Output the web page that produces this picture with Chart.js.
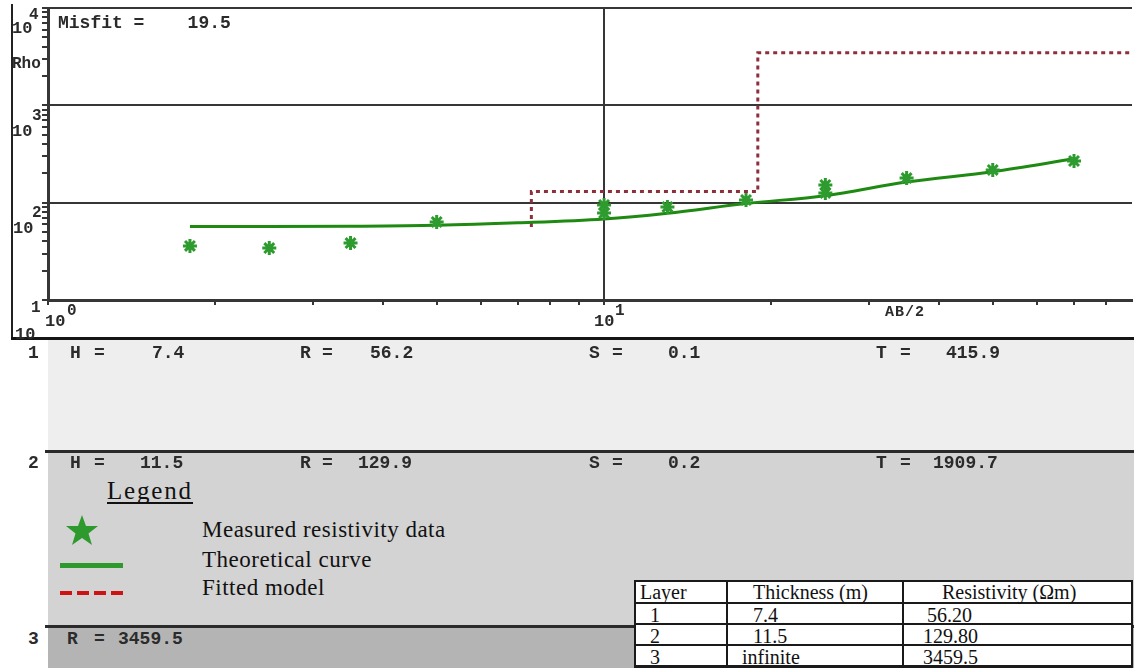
<!DOCTYPE html>
<html><head><meta charset="utf-8">
<script src="https://cdn.jsdelivr.net/npm/chart.js@4.4.1/dist/chart.umd.min.js"></script>
<style>
html,body{margin:0;padding:0;background:#fff;}
body{width:1134px;height:668px;overflow:hidden;position:relative;}
.a{position:absolute;white-space:pre;line-height:1;}
.m{font-family:"Liberation Mono","DejaVu Sans Mono",monospace;font-weight:bold;color:#2b2b2b;}
.s{font-family:"Liberation Serif","DejaVu Serif",serif;color:#111;}
.box{position:absolute;}
</style></head><body>
<canvas id="c" width="1134" height="338" style="position:absolute;left:0;top:0;"></canvas>

<!-- frame lines -->
<div class="box" style="left:11px;top:4px;width:2px;height:335px;background:#222;"></div>

<!-- layer panel -->
<div class="box" style="left:48px;top:340px;width:1086px;height:111px;background:#eeeeee;"></div>
<div class="box" style="left:48px;top:453px;width:1086px;height:173px;background:#d3d3d3;"></div>
<div class="box" style="left:48px;top:628px;width:1086px;height:40px;background:#b4b4b4;"></div>
<div class="box" style="left:45px;top:450px;width:1089px;height:3px;background:#2a2a2a;"></div>
<div class="box" style="left:45px;top:625px;width:1089px;height:3px;background:#2a2a2a;"></div>
<div class="box" style="left:11px;top:337px;width:1123px;height:3px;background:#151515;"></div>

<!-- axis labels -->
<div class="a m" style="left:12px;top:20px;font-size:17px;">10</div>
<div class="a m" style="left:29px;top:7px;font-size:16px;">4</div>
<div class="a m" style="left:12px;top:56px;font-size:16px;">Rho</div>
<div class="a m" style="left:32px;top:108px;font-size:16px;">3</div>
<div class="a m" style="left:12px;top:123px;font-size:17px;">10</div>
<div class="a m" style="left:32px;top:205px;font-size:16px;">2</div>
<div class="a m" style="left:13px;top:220px;font-size:17px;">10</div>
<div class="a m" style="left:31px;top:300px;font-size:16px;">1</div>
<div class="a m" style="left:15px;top:326px;font-size:17px;">10</div>
<div class="a m" style="left:45px;top:313px;font-size:17px;">10</div>
<div class="a m" style="left:67px;top:303px;font-size:16px;">0</div>
<div class="a m" style="left:594px;top:313px;font-size:17px;">10</div>
<div class="a m" style="left:615px;top:303px;font-size:16px;">1</div>
<div class="a m" style="left:885px;top:305px;font-size:15px;letter-spacing:1px;">AB/2</div>
<div class="a m" style="left:58px;top:14px;font-size:18px;">Misfit =    19.5</div>

<!-- layer rows -->
<div class="a m" style="left:28px;top:344px;font-size:18px;">1</div>
<div class="a m" style="left:70px;top:344px;font-size:18px;">H</div>
<div class="a m" style="left:94px;top:344px;font-size:18px;">=</div>
<div class="a m" style="left:152px;top:344px;font-size:18px;">7.4</div>
<div class="a m" style="left:300px;top:344px;font-size:18px;">R</div>
<div class="a m" style="left:322px;top:344px;font-size:18px;">=</div>
<div class="a m" style="left:370px;top:344px;font-size:18px;">56.2</div>
<div class="a m" style="left:589px;top:344px;font-size:18px;">S</div>
<div class="a m" style="left:612px;top:344px;font-size:18px;">=</div>
<div class="a m" style="left:668px;top:344px;font-size:18px;">0.1</div>
<div class="a m" style="left:876px;top:344px;font-size:18px;">T</div>
<div class="a m" style="left:900px;top:344px;font-size:18px;">=</div>
<div class="a m" style="left:946px;top:344px;font-size:18px;">415.9</div>

<div class="a m" style="left:28px;top:454px;font-size:18px;">2</div>
<div class="a m" style="left:70px;top:454px;font-size:18px;">H</div>
<div class="a m" style="left:94px;top:454px;font-size:18px;">=</div>
<div class="a m" style="left:140px;top:454px;font-size:18px;">11.5</div>
<div class="a m" style="left:300px;top:454px;font-size:18px;">R</div>
<div class="a m" style="left:322px;top:454px;font-size:18px;">=</div>
<div class="a m" style="left:358px;top:454px;font-size:18px;">129.9</div>
<div class="a m" style="left:589px;top:454px;font-size:18px;">S</div>
<div class="a m" style="left:612px;top:454px;font-size:18px;">=</div>
<div class="a m" style="left:668px;top:454px;font-size:18px;">0.2</div>
<div class="a m" style="left:876px;top:454px;font-size:18px;">T</div>
<div class="a m" style="left:900px;top:454px;font-size:18px;">=</div>
<div class="a m" style="left:933px;top:454px;font-size:18px;">1909.7</div>

<div class="a m" style="left:28px;top:630px;font-size:18px;">3</div>
<div class="a m" style="left:67px;top:630px;font-size:18px;">R</div>
<div class="a m" style="left:94px;top:630px;font-size:18px;">=</div>
<div class="a m" style="left:118px;top:630px;font-size:18px;">3459.5</div>

<!-- legend -->
<div class="a s" style="left:107px;top:478px;font-size:25px;letter-spacing:1.8px;">Legend</div>
<div class="box" style="left:107px;top:502px;width:86px;height:2px;background:#111;"></div>
<svg class="box" style="left:65px;top:514px;" width="34" height="32" viewBox="0 0 34 32">
  <polygon points="17,1 21,12 33,12 23.5,19.5 27,31 17,24 7,31 10.5,19.5 1,12 13,12" fill="#2e9a2e"/>
</svg>
<div class="box" style="left:60px;top:563px;width:63px;height:5px;background:#2e9a2e;"></div>
<div class="box" style="left:60px;top:591px;width:63px;height:4px;background:repeating-linear-gradient(90deg,#cc1414 0 12px,transparent 12px 17px);"></div>
<div class="a s" style="left:202px;top:519px;font-size:23px;letter-spacing:0.5px;line-height:22px;">Measured resistivity data</div>
<div class="a s" style="left:202px;top:549px;font-size:23px;letter-spacing:0.5px;line-height:22px;">Theoretical curve</div>
<div class="a s" style="left:202px;top:577px;font-size:23px;letter-spacing:0.5px;line-height:22px;">Fitted model</div>

<!-- result table -->
<div class="box" style="left:634px;top:580px;width:499px;height:88px;background:#fff;border:2px solid #1a1a1a;box-sizing:border-box;"></div>
<div class="box" style="left:726px;top:580px;width:2px;height:88px;background:#1a1a1a;"></div>
<div class="box" style="left:902px;top:580px;width:2px;height:88px;background:#1a1a1a;"></div>
<div class="box" style="left:634px;top:602px;width:499px;height:2px;background:#1a1a1a;"></div>
<div class="box" style="left:634px;top:623px;width:499px;height:2px;background:#1a1a1a;"></div>
<div class="box" style="left:634px;top:644px;width:499px;height:2px;background:#1a1a1a;"></div>
<div class="box" style="left:634px;top:665px;width:499px;height:2px;background:#1a1a1a;"></div>
<div class="a s" style="left:640px;top:582px;font-size:20px;">Layer</div>
<div class="a s" style="left:753px;top:582px;font-size:20px;">Thickness (m)</div>
<div class="a s" style="left:942px;top:582px;font-size:20px;">Resistivity (Ωm)</div>
<div class="a s" style="left:650px;top:605px;font-size:20px;">1</div>
<div class="a s" style="left:753px;top:605px;font-size:20px;">7.4</div>
<div class="a s" style="left:927px;top:605px;font-size:20px;">56.20</div>
<div class="a s" style="left:650px;top:626px;font-size:20px;">2</div>
<div class="a s" style="left:753px;top:626px;font-size:20px;">11.5</div>
<div class="a s" style="left:923px;top:626px;font-size:20px;">129.80</div>
<div class="a s" style="left:650px;top:647px;font-size:20px;">3</div>
<div class="a s" style="left:742px;top:647px;font-size:20px;">infinite</div>
<div class="a s" style="left:923px;top:647px;font-size:20px;">3459.5</div>

<script>
// ---- data ----
const abHalf        = [1.8, 2.5, 3.5, 5, 10, 10, 13, 18, 25, 25, 35, 50, 70];
const rhoMeasured   = [35.9, 34.2, 38.5, 63.4, 94.6, 78.3, 90.3, 106.6, 152, 126, 179, 217, 268];
const abCurve       = [1.8, 2.5, 3.5, 5, 7, 10, 13, 18, 25, 35, 50, 70];
const rhoCurve      = [57, 57, 57.3, 58.5, 62, 68, 78, 98, 118, 163, 208, 282];
const layerThickness   = [7.4, 11.5];
const layerResistivity = [56.2, 129.9, 3459.5];
const xMin = 1, xMax = 89, yMin = 10, yMax = 10000;
const xTickValues = [1,2,3,4,5,6,7,8,9,10,20,30,40,50,60,70,80];
const yTickValues = [10,20,30,40,50,60,70,80,90,100,200,300,400,500,600,700,800,900,1000,2000,3000,4000,5000,6000,7000,8000,9000,10000];
const xMajor = [10];
const yMajor = [100, 1000, 10000];

const measured = abHalf.map((x, i) => ({x, y: rhoMeasured[i]}));
const curve = abCurve.map((x, i) => ({x, y: rhoCurve[i]}));
// fitted model steps (the first layer's flat part lies under the theoretical curve)
const model = [];
let depth = 0;
layerThickness.forEach((t, i) => {
  depth += t;
  model.push({x: depth, y: layerResistivity[i]});
  model.push({x: depth, y: layerResistivity[i + 1]});
});
model.push({x: xMax, y: layerResistivity[layerResistivity.length - 1]});

const AX = '#363636';
new Chart(document.getElementById('c'), {
  type: 'scatter',
  data: {
    datasets: [
      {label: 'Measured resistivity data', data: measured, showLine: false, order: 0,
       pointStyle: 'star', pointRadius: 7, pointBorderWidth: 3,
       borderColor: '#2e9b2e', backgroundColor: '#2e9b2e'},
      {label: 'Theoretical curve', data: curve, showLine: true, order: 1, pointRadius: 0,
       borderColor: '#1f8a12', borderWidth: 3, cubicInterpolationMode: 'monotone'},
      {label: 'Fitted model', data: model, showLine: true, order: 2, pointRadius: 0,
       borderColor: '#8e2f3c', borderWidth: 3, borderDash: [4, 4], tension: 0}
    ]
  },
  options: {
    responsive: false, animation: false, devicePixelRatio: 1,
    layout: {padding: {left: 48, top: 8, right: 2, bottom: 38}, autoPadding: false},
    plugins: {legend: {display: false}, tooltip: {enabled: false}},
    events: [],
    scales: {
      x: {type: 'logarithmic', position: 'bottom', min: xMin, max: xMax,
          afterBuildTicks: s => { s.ticks = xTickValues.map(v => ({value: v})); },
          afterFit: s => { s.height = 0; },
          ticks: {display: false},
          grid: {color: c => (c.tick && xMajor.includes(c.tick.value)) ? AX : 'rgba(0,0,0,0)',
                 lineWidth: 2, drawTicks: true, tickLength: 5, tickColor: AX, tickWidth: 2},
          border: {display: true, color: AX, width: 3}},
      y: {type: 'logarithmic', position: 'left', min: yMin, max: yMax,
          afterBuildTicks: s => { s.ticks = yTickValues.map(v => ({value: v})); },
          afterFit: s => { s.width = 0; },
          ticks: {display: false},
          grid: {color: c => (c.tick && yMajor.includes(c.tick.value)) ? AX : 'rgba(0,0,0,0)',
                 lineWidth: 2, drawTicks: true, tickLength: 6, tickColor: AX, tickWidth: 2},
          border: {display: true, color: AX, width: 3}}
    }
  }
});
</script>
</body></html>
